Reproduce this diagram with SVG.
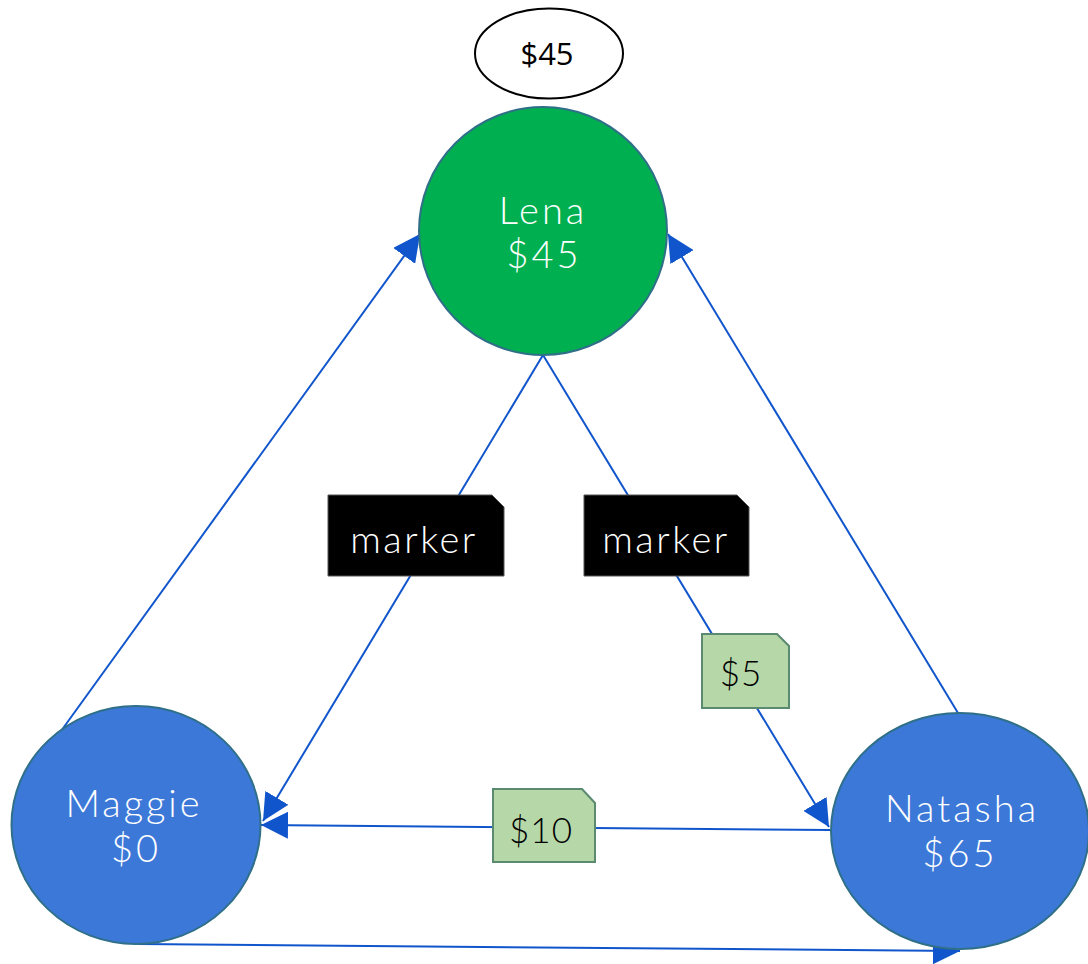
<svg xmlns="http://www.w3.org/2000/svg" width="1088" height="964" viewBox="0 0 1088 964">
<style>
.node{stroke:#2F6F88;stroke-width:2}
.lena{fill:#00B050}
.blue{fill:#3C78D8}
.nt{font-family:Lato,"Open Sans",sans-serif;font-weight:300;font-size:38px;fill:#FFFFFF;text-anchor:middle;letter-spacing:3px}
.edge{stroke:#1155CC;stroke-width:2;fill:none}
.mk{fill:#000000;stroke:#555555;stroke-width:1}
.mt{font-family:Lato,"Open Sans",sans-serif;font-weight:300;font-size:38px;fill:#FFFFFF;text-anchor:middle;letter-spacing:2.5px}
.note{fill:#B6D7A8;stroke:#5A8A70;stroke-width:2}
.ntxt{font-family:Lato,"Open Sans",sans-serif;font-weight:300;font-size:35px;fill:#000000;text-anchor:middle;letter-spacing:1px}
</style>
<defs>
<marker id="ahb" viewBox="0 0 10 10" refX="10" refY="5" markerWidth="27" markerHeight="27" markerUnits="userSpaceOnUse" orient="auto">
<path d="M0,0 L10,5 L0,10 z" fill="#1155CC"/>
</marker>
</defs>
<g id="connectors">
<line class="edge" x1="56" y1="738" x2="420" y2="234" marker-end="url(#ahb)"/>
<line class="edge" x1="958" y1="713" x2="668" y2="234" marker-end="url(#ahb)"/>
<line class="edge" x1="543" y1="355" x2="263" y2="821" marker-end="url(#ahb)"/>
<line class="edge" x1="543" y1="355" x2="829" y2="827" marker-end="url(#ahb)"/>
<line class="edge" x1="830" y1="830" x2="261" y2="825" marker-end="url(#ahb)"/>
<line class="edge" x1="138" y1="944" x2="960" y2="951" marker-end="url(#ahb)"/>
</g>
<g id="label-top">
<ellipse cx="549" cy="53.5" rx="74" ry="45" fill="#FFFFFF" stroke="#000000" stroke-width="2"/>
<text x="547" y="65" font-family="'Open Sans',Arial,sans-serif" font-size="31" text-anchor="middle" fill="#000000">$45</text>
</g>
<g id="node-lena">
<circle class="node lena" cx="543" cy="231" r="124"/>
<text class="nt" x="543" y="224">Lena</text>
<text class="nt" x="544" y="268">$45</text>
</g>
<g id="node-maggie">
<ellipse class="node blue" cx="136" cy="825" rx="124.5" ry="119"/>
<text class="nt" x="134" y="817">Maggie</text>
<text class="nt" x="136" y="862">$0</text>
</g>
<g id="node-natasha">
<ellipse class="node blue" cx="960" cy="831" rx="129" ry="118"/>
<text class="nt" x="962" y="822">Natasha</text>
<text class="nt" x="960" y="867">$65</text>
</g>
<g id="marker-left">
<path class="mk" d="M328,495 H492 L504,507 V576 H328 Z"/>
<text class="mt" x="414" y="553">marker</text>
</g>
<g id="marker-right">
<path class="mk" d="M584,495 H737 L749,507 V576 H584 Z"/>
<text class="mt" x="666" y="553">marker</text>
</g>
<g id="note-5">
<path class="note" d="M702,634 H777 L789,646 V708 H702 Z"/>
<text class="ntxt" x="741" y="686">$5</text>
</g>
<g id="note-10">
<path class="note" d="M493,789 H582 L595,803 V862 H493 Z"/>
<text class="ntxt" x="541" y="843">$10</text>
</g>
</svg>
